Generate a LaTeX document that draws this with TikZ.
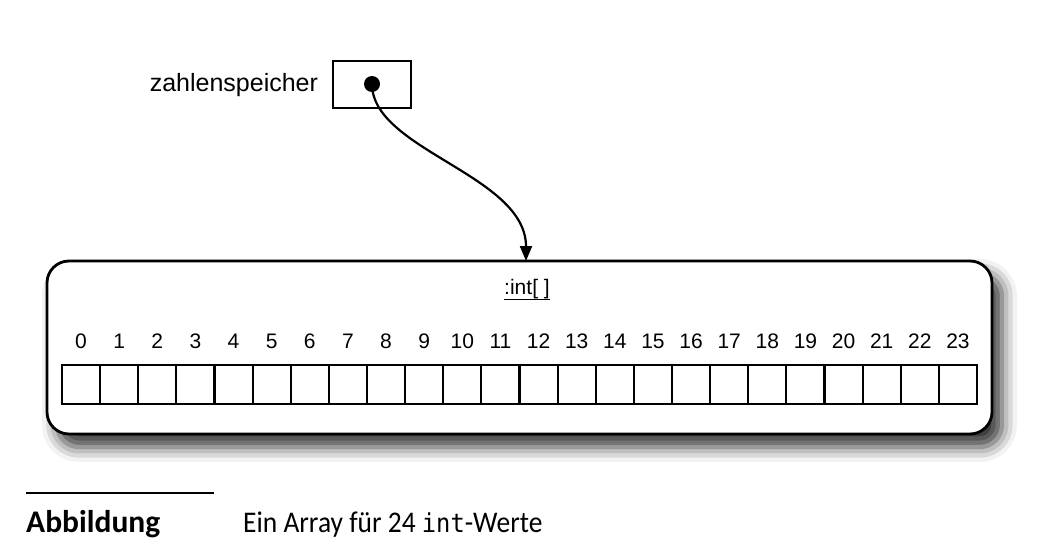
\documentclass[tikz,border=0pt]{standalone}
\usepackage{fontspec}
\setmainfont{Liberation Sans}
\newfontfamily\capfont{Carlito}
\newfontfamily\capmono{DejaVu Sans Mono}
\usetikzlibrary{arrows.meta,shadows.blur}
\tikzset{
  lbl/.style={inner sep=0pt,outer sep=0pt,font=\fontsize{25}{30}\selectfont},
  idx/.style={inner sep=0pt,outer sep=0pt,anchor=base,font=\fontsize{21}{24}\selectfont},
  cell/.style={draw,line width=2.2pt,minimum width=38.125pt,minimum height=39pt,inner sep=0pt,outer sep=0pt},
  varbox/.style={draw,line width=2.2pt,minimum width=78pt,minimum height=47pt,inner sep=0pt,outer sep=0pt},
  arrbox/.style={draw,line width=2.8pt,rounded corners=22pt,fill=white,minimum width=945pt,minimum height=173pt,inner sep=0pt,outer sep=0pt,
    blur shadow={shadow xshift=10pt,shadow yshift=-13pt,shadow blur radius=15pt,shadow blur extra rounding=8pt,shadow opacity=80}},
  ptr/.style={line width=2.2pt,-{Triangle[length=15pt,width=12pt]}},
}
\begin{document}
\begin{tikzpicture}[x=1pt,y=-1pt]
\useasboundingbox (0,0) rectangle (1054,548);
% pointer variable
\node[varbox] (var) at (372,84.5) {};
\node[circle,fill=black,minimum size=16pt,inner sep=0pt] (dot) at (372,84) {};
\node[lbl,anchor=base east] (name) at (318,92) {zahlenspeicher};
% array object
\node[arrbox] (arr) at (519.5,347.5) {};
\node[inner sep=0pt,anchor=base,font=\fontsize{21}{24}\selectfont] (type) at (527,294) {:int[ ]};
\draw[line width=1.8pt] ([yshift=-5.5pt]type.base west) -- ([yshift=-5.5pt]type.base east);
\foreach \i in {0,...,23}{
  \node[cell] (c\i) at ({62+38.125*(\i+0.5)},384.5) {};
  \node[idx] (n\i) at ({62+38.125*(\i+0.5)},348) {\i};
}
\coordinate (tip) at ([xshift=6.5pt]arr.north);
\draw[ptr] (dot.center) .. controls (372,150) and (526,175) .. (tip);
% caption
\coordinate (r1) at (26,493);
\coordinate (r2) at (214,493);
\draw[line width=1.4pt] (r1) -- (r2);
\node[inner sep=0pt,anchor=base west,font=\capfont\bfseries\fontsize{31.5}{36}\selectfont] (cap) at (26,532) {Abbildung};
\node[inner sep=0pt,anchor=base west,font=\capfont\fontsize{30}{34}\selectfont] (captext) at (243,532) {\scalebox{0.915}[1]{Ein Array für 24 {\capmono\fontsize{26}{28}\selectfont int}-Werte}};
\end{tikzpicture}
\end{document}
